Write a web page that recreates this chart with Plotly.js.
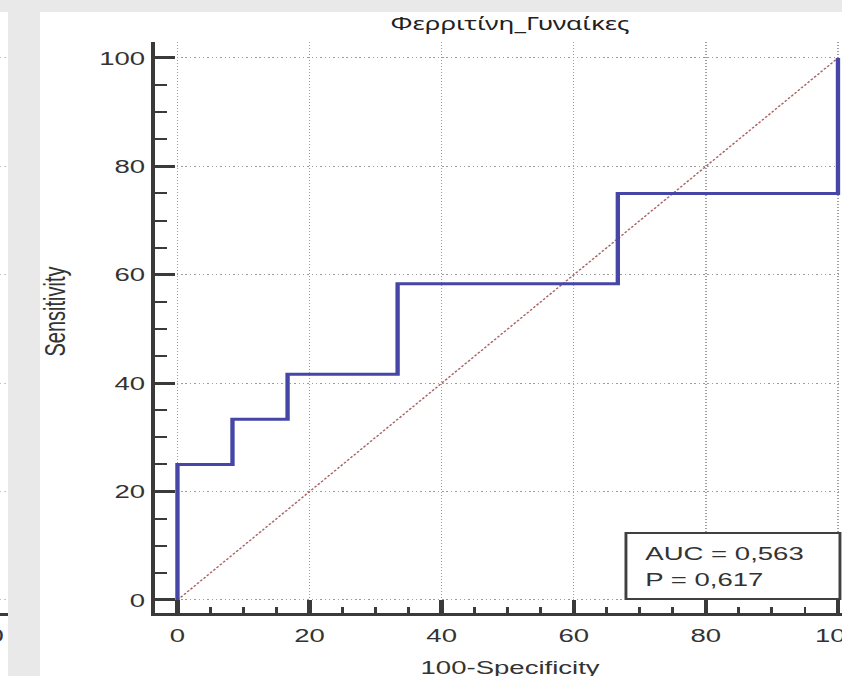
<!DOCTYPE html>
<html>
<head>
<meta charset="utf-8">
<script src="https://cdn.plot.ly/plotly-3.0.1.min.js"></script>
<style>
  html, body { margin: 0; padding: 0; background: #ffffff; overflow: hidden; }
  #wrap { width: 581px; height: 676px; overflow: hidden; transform: scaleX(1.45); transform-origin: 0 0; }
  #chart { width: 597px; height: 676px; }
</style>
</head>
<body>
<div id="wrap"><div id="chart"></div></div>
<script>
// ---- data ----
const chartTitle = "Φερριτίνη_Γυναίκες";
const xTitle = "100-Specificity";
const yTitle = "Sensitivity";
const fpr = [0, 0, 8.33, 16.67, 33.33, 66.67, 100, 100];     // 100-Specificity
const tpr = [0, 25, 33.33, 41.67, 58.33, 75, 75, 100];       // Sensitivity
const refX = [0, 100];
const refY = [0, 100];
const xTickVals = [0, 20, 40, 60, 80, 100];
const xTickText = ["0", "20", "40", "60", "80", "100"];
const yTickVals = [0, 20, 40, 60, 80, 100];
const yTickText = ["0", "20", "40", "60", "80", "100"];
const aucValue = "0,563";
const pValue = "0,617";

// ---- styling ----
const axisCol = '#3a3a3a';
const gridCol = '#9c9c9c';
const gridDash = '1px,2px';
const tickFont = {family: 'Liberation Sans, Arial, sans-serif', size: 19, color: '#333333'};
const titleFont = {family: 'Liberation Sans, Arial, sans-serif', size: 19, color: '#333333'};
const H = 676, W = 597;
const yDom = [1 - 613 / H, 1 - 42 / H];

const traces = [
  {x: refX, y: refY, type: 'scatter', mode: 'lines',
   line: {color: '#a86464', width: 1.2, dash: '2px,1.5px'}, hoverinfo: 'skip'},
  {x: fpr, y: tpr, type: 'scatter', mode: 'lines',
   line: {color: '#4646a6', width: 3, shape: 'hv'}, hoverinfo: 'x+y'},
  {x: [], y: [], xaxis: 'x2', yaxis: 'y2', type: 'scatter', mode: 'lines', hoverinfo: 'skip'}
];

const layout = {
  width: W, height: H,
  margin: {l: 0, r: 0, t: 0, b: 0, pad: 0},
  paper_bgcolor: '#ffffff',
  plot_bgcolor: 'rgba(0,0,0,0)',
  showlegend: false,
  font: tickFont,
  title: {text: chartTitle, font: {family: 'Noto Sans, DejaVu Sans, sans-serif', size: 18, color: '#222222'},
          x: 0.5892, xanchor: 'center', y: 1 - 24 / H, yanchor: 'middle', xref: 'paper', yref: 'paper'},
  xaxis: {
    domain: [106.9 / W, 1], range: [-3.4, 104.19], anchor: 'y',
    tickmode: 'array', tickvals: xTickVals, ticktext: xTickText, tickfont: tickFont, ticklabelstandoff: 3,
    ticks: 'inside', ticklen: 13, tickwidth: 3, tickcolor: axisCol,
    minor: {tickmode: 'linear', tick0: 0, dtick: 5, ticks: 'inside', ticklen: 6, tickwidth: 2, tickcolor: axisCol, showgrid: false},
    showline: true, linecolor: axisCol, linewidth: 3,
    showgrid: true, gridcolor: gridCol, griddash: gridDash, gridwidth: 1,
    zeroline: false, automargin: false
  },
  yaxis: {
    domain: yDom, range: [-2.4, 102.95], anchor: 'x',
    tickmode: 'array', tickvals: yTickVals, ticktext: yTickText, tickfont: tickFont,
    ticks: 'inside', ticklen: 13.8, tickwidth: 3, tickcolor: axisCol,
    minor: {tickmode: 'linear', tick0: 0, dtick: 5, ticks: 'inside', ticklen: 8.3, tickwidth: 2, tickcolor: axisCol, showgrid: false},
    showline: true, linecolor: axisCol, linewidth: 3,
    showgrid: true, gridcolor: gridCol, griddash: gridDash, gridwidth: 1,
    zeroline: false, automargin: false
  },
  xaxis2: {domain: [0, 5.5 / W], range: [0, 1], anchor: 'y2', showline: true, linecolor: axisCol, linewidth: 3,
           showticklabels: false, showgrid: false, zeroline: false, ticks: ''},
  yaxis2: {domain: yDom, range: [-2.4, 102.95], anchor: 'x2', tickmode: 'array', tickvals: yTickVals,
           showticklabels: false, showgrid: true, gridcolor: '#c4c4c4', griddash: gridDash, zeroline: false, showline: false, ticks: ''},
  shapes: [
    {type: 'rect', xref: 'paper', yref: 'paper', x0: 0, x1: 1, y0: 1 - 12 / H, y1: 1, fillcolor: '#e9e9e9', line: {width: 0}, layer: 'below'},
    {type: 'rect', xref: 'paper', yref: 'paper', x0: 5.5 / W, x1: 27.6 / W, y0: 0, y1: 1, fillcolor: '#e9e9e9', line: {width: 0}, layer: 'below'},
    {type: 'rect', xref: 'x', yref: 'y', x0: 67.9, x1: 100.3, y0: 0.18, y1: 12.36, fillcolor: '#ffffff', line: {color: '#404040', width: 2}, layer: 'above'}
  ],
  annotations: [
    {xref: 'paper', yref: 'paper', x: 37 / W, y: 1 - 311.5 / H, xanchor: 'center', yanchor: 'middle', showarrow: false,
     textangle: -90, text: yTitle, font: {family: 'Liberation Sans, Arial, sans-serif', size: 20, color: '#333333'}},
    {xref: 'paper', yref: 'paper', x: 352.4 / W, y: 1 - 667 / H, xanchor: 'center', yanchor: 'middle', showarrow: false,
     text: xTitle, font: titleFont},
    {xref: 'x', yref: 'y', x: 70.3, y: 8.67, xanchor: 'left', yanchor: 'middle', showarrow: false,
     text: 'AUC = ' + aucValue, font: tickFont},
    {xref: 'x', yref: 'y', x: 70.3, y: 3.69, xanchor: 'left', yanchor: 'middle', showarrow: false,
     text: 'P = ' + pValue, font: tickFont},
    {xref: 'paper', yref: 'paper', x: 5.2 / W, y: 1 - 635 / H, xanchor: 'right', yanchor: 'middle', showarrow: false,
     text: xTickText[5], font: tickFont}
  ]
};

Plotly.newPlot('chart', traces, layout, {displayModeBar: false, staticPlot: true});
</script>
</body>
</html>
